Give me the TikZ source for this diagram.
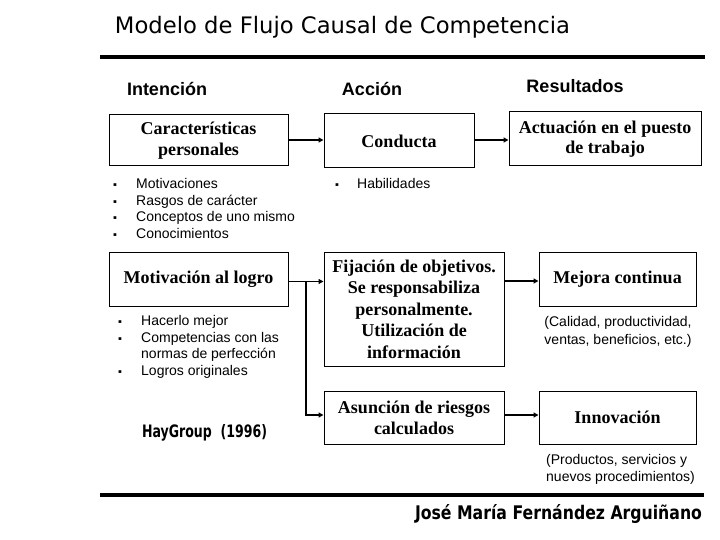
\documentclass[tikz,border=0pt]{standalone}
\usepackage{fontspec}
\setmainfont{Liberation Serif}
\setsansfont{Liberation Sans}
\newfontfamily\comic{DejaVu Sans}
\usetikzlibrary{arrows.meta}
\begin{document}
\begin{tikzpicture}[x=1pt,y=-1pt,
 box/.style={draw,line width=1pt,inner sep=0pt,align=center,font=\fontsize{18}{21}\selectfont\bfseries},
 head/.style={anchor=base,inner sep=0pt,font=\sffamily\bfseries\fontsize{18}{21}\selectfont},
 txt/.style={anchor=base west,inner sep=0pt,font=\sffamily\fontsize{14}{16.7}\selectfont},
 ctxt/.style={anchor=base,inner sep=0pt,font=\sffamily\fontsize{14}{16.7}\selectfont},
 bul/.style={anchor=base,inner sep=0pt,font=\sffamily\fontsize{11}{11}\selectfont},
 arr/.style={line width=1.8pt,-{Triangle[length=5pt,width=5pt]}},
 rulebar/.style={line width=4pt}]
\useasboundingbox (0,0) rectangle (720,540);

% title and rules
\node[anchor=base,inner sep=0pt] (title) at (342.5,34) {\resizebox{455pt}{!}{\comic\fontsize{20}{24}\selectfont Modelo de Flujo Causal de Competencia}};
\draw[rulebar] (100,57) -- (705,57);
\draw[rulebar] (100,495) -- (704,495);
\node[anchor=base,inner sep=0pt] (autor) at (558.5,519.5) {\resizebox{287pt}{15pt}{\comic\bfseries\fontsize{15}{18}\selectfont José María Fernández Arguiñano}};
\node[anchor=base,inner sep=0pt] (hay) at (204.5,437) {\resizebox{125pt}{13pt}{\comic\bfseries\fontsize{13}{16}\selectfont HayGroup\ \ (1996)}};

% headings
\node[head] (hint) at (167,96) {Intención};
\node[head] (hacc) at (372,96) {Acción};
\node[head] (hres) at (575,93) {Resultados};

% boxes
\node[box,minimum width=179pt,minimum height=51pt] (car) at (198.5,140.5) {Características\\personales};
\node[box,minimum width=150pt,minimum height=54pt] (con) at (399,141) {Conducta};
\node[box,minimum width=192pt,minimum height=54pt,font=\fontsize{18}{20}\selectfont\bfseries] (act) at (605,139) {Actuación en el puesto\\de trabajo};
\node[box,minimum width=179pt,minimum height=54pt] (mot) at (198.5,279) {Motivación al logro};
\node[box,minimum width=180pt,minimum height=114pt,font=\fontsize{18}{21.5}\selectfont\bfseries] (fij) at (414,309) {Fijación de objetivos.\\Se responsabiliza\\personalmente.\\Utilización de\\información};
\node[box,minimum width=157pt,minimum height=54pt] (mej) at (617.5,279) {Mejora continua};
\node[box,minimum width=180pt,minimum height=53pt] (asu) at (414,417.5) {Asunción de riesgos\\calculados};
\node[box,minimum width=157pt,minimum height=53pt] (inn) at (617.5,417.5) {Innovación};

% arrows
\draw[arr] (car.east |- 0,140) -- (con.west |- 0,140);
\draw[arr] (con.east |- 0,140) -- (act.west |- 0,140);
\coordinate (br) at (306,281.5);
\draw[arr] ([yshift=-2.5pt]mot.east) -- ([yshift=-2.5pt]mot.east -| fij.west);
\draw[arr] (br) |- ([yshift=2.5pt]asu.west);
\draw[arr] ([yshift=-2pt]mej.west -| fij.east) -- ([yshift=-2pt]mej.west);
\draw[arr] ([yshift=2.5pt]asu.east) -- ([yshift=2.5pt]inn.west);

% bullet lists
\node[bul] (b1) at (115,189) {▪};
\node[bul] (b2) at (115,206) {▪};
\node[bul] (b3) at (115,222) {▪};
\node[bul] (b4) at (115,239) {▪};
\node[txt] (t1) at (136,189) {Motivaciones};
\node[txt] (t2) at (136,206) {Rasgos de carácter};
\node[txt] (t3) at (136,222) {Conceptos de uno mismo};
\node[txt] (t4) at (136,239) {Conocimientos};

\node[bul] (b5) at (337,189) {▪};
\node[txt] (t5) at (357,189) {Habilidades};

\node[bul] (b6) at (120,325) {▪};
\node[bul] (b7) at (120,342) {▪};
\node[bul] (b8) at (120,375) {▪};
\node[txt] (t6) at (141,325) {Hacerlo mejor};
\node[txt] (t7) at (141,342) {Competencias con las};
\node[txt] (t8) at (141,358) {normas de perfección};
\node[txt] (t9) at (141,375) {Logros originales};

\node[ctxt] (c1) at (618,326) {(Calidad, productividad,};
\node[ctxt] (c2) at (618,344) {ventas, beneficios, etc.)};
\node[txt] (p1) at (546,464) {(Productos, servicios y};
\node[txt] (p2) at (546,481) {nuevos procedimientos)};
\end{tikzpicture}
\end{document}
